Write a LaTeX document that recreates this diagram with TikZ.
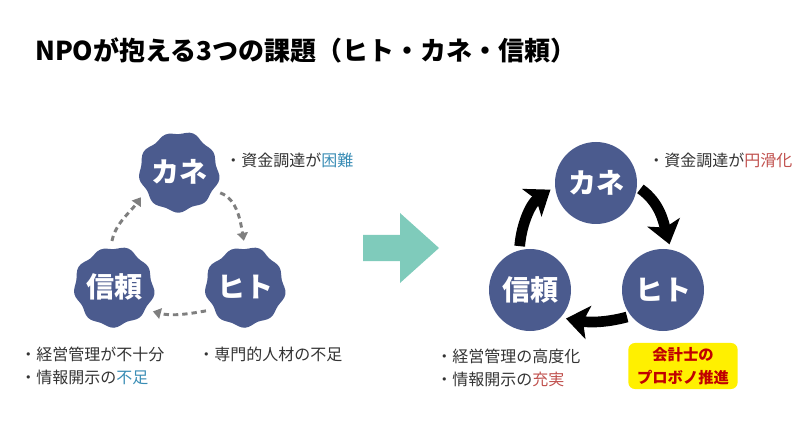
\documentclass[tikz,border=0pt]{standalone}
\usepackage{fontspec}
\setmainfont{Noto Sans CJK JP}
\usetikzlibrary{arrows.meta,backgrounds}
\definecolor{navy}{HTML}{4B5B8E}
\definecolor{ink}{HTML}{333333}
\definecolor{grey}{HTML}{7F7F7F}
\definecolor{mint}{HTML}{7FCBBB}
\definecolor{hlblue}{HTML}{3A8DB5}
\definecolor{hlred}{HTML}{C0504D}
\definecolor{boxred}{HTML}{C00000}
\definecolor{boxyellow}{HTML}{FFF000}
\tikzset{disc/.style={
    circle,
    fill=navy,
    inner sep=0pt,
    minimum size=61.5pt,
    text=white,
    font=\fontsize{21}{21}\selectfont\bfseries
  },
  blob/.style={disc,fill=none,minimum size=59pt},
  note/.style={anchor=west,inner sep=0pt,text=ink,
    font=\fontsize{12}{16}\selectfont},
  dasharr/.style={draw=grey,line width=2.2pt,dash pattern=on 4pt off 3pt,
    -{Triangle[width=8pt,length=6pt]},shorten <=5pt,shorten >=5pt},
  bigarr/.style={line width=8pt,-{Stealth[width=25pt,length=17pt,inset=4pt]},
    shorten <=3pt,shorten >=4pt},
  probox/.style={rectangle,rounded corners=5pt,fill=boxyellow,text=boxred,
    align=center,minimum width=82pt,minimum height=34pt,
    font=\fontsize{11.5}{17}\selectfont\bfseries},
}
\begin{document}
\begin{tikzpicture}[x=0.75pt,y=-0.75pt]
  \useasboundingbox (0,0) rectangle (800,424);
  \node[anchor=west,inner sep=0pt,font=\fontsize{19.5}{20}\selectfont\bfseries] (title) at (35,50)
    {NPOが抱える3つの課題（ヒト・カネ・信頼）};

  \node[blob] (kane1) at (179,172) {カネ};
  \node[blob] (hito1) at (245,287) {ヒト};
  \node[blob] (shin1) at (114,287) {信頼};
  \begin{scope}[on background layer]
    \foreach \b in {kane1,hito1,shin1}
      \fill[navy,shift={(\b.center)}] plot[smooth cycle,domain=0:355,samples=72,variable=\t]
        ({(39+1.4*sin(9*\t)+0.7*sin(4*\t+30))*cos(\t)},{(39+1.4*sin(9*\t)+0.7*sin(4*\t+30))*sin(\t)});
  \end{scope}
  \draw[dasharr] (kane1.-28) to[out=-20,in=100] (hito1.90);
  \draw[dasharr] (hito1.215) to[out=190,in=-15] (shin1.-35);
  \draw[dasharr] (shin1.95) to[out=78,in=235] (kane1.210);
  \node[note] (n1) at (225,160) {・資金調達が\textcolor{hlblue}{困難}};
  \node[note] (n2) at (198,354) {・専門的人材の不足};
  \node[note] (n3) at (20,354) {・経営管理が不十分};
  \node[note] (n4) at (20,377) {・情報開示の\textcolor{hlblue}{不足}};

  \fill[mint] (363,235) -- (400,235) -- (400,213) -- (439,248)
    -- (400,283) -- (400,261) -- (363,261) -- cycle;

  \node[disc] (kane2) at (596,183) {カネ};
  \node[disc] (hito2) at (663,290) {ヒト};
  \node[disc] (shin2) at (530,290) {信頼};
  \draw[bigarr] (kane2.-5) to[out=-35,in=105] (hito2.79);
  \draw[bigarr] (hito2.219) to[out=195,in=-10] (shin2.-42);
  \draw[bigarr] (shin2.105) to[out=85,in=215] (kane2.185);
  \node[note] (n5) at (648,160) {・資金調達が\textcolor{hlred}{円滑化}};
  \node[note] (n6) at (436,356) {・経営管理の高度化};
  \node[note] (n7) at (436,379) {・情報開示の\textcolor{hlred}{充実}};
  \node[probox] (pro) at (683,366) {会計士の\\プロボノ推進};
\end{tikzpicture}
\end{document}
